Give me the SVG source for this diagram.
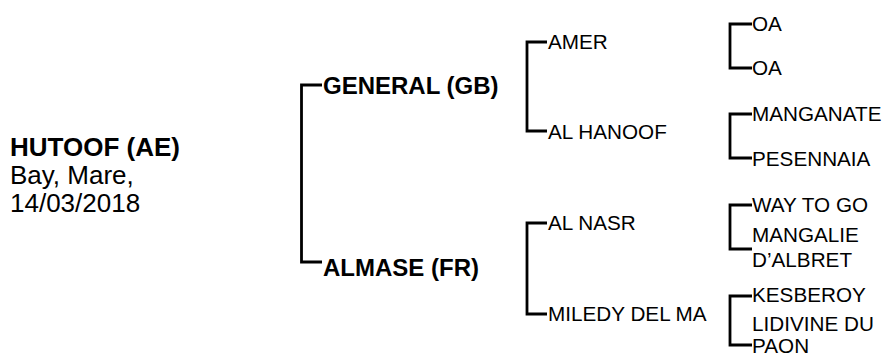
<svg xmlns="http://www.w3.org/2000/svg" width="886" height="358" viewBox="0 0 886 358">
<style>
.t{font-family:"Liberation Sans",Arial,sans-serif;fill:#000}
.b{font-weight:bold}
.l0{font-size:26px}
.l1{font-size:24px}
.l2{font-size:20.7px}
.c{fill:none;stroke:#000;stroke-width:2.8}
</style>
<rect width="886" height="358" fill="#fff"/>
<g id="connectors">
<path class="c" d="M322,85 H301.5 V262 H322"/>
<path class="c" d="M547,42 H527 V131 H547"/>
<path class="c" d="M547,223 H527 V314 H547"/>
<path class="c" d="M752,24 H730 V68 H752"/>
<path class="c" d="M752,114 H730 V158 H752"/>
<path class="c" d="M752,205 H730 V249 H752"/>
<path class="c" d="M752,296 H730 V345 H752"/>
</g>
<g id="n-hutoof"><text class="t l0" x="10" y="156"><tspan class="b">HUTOOF (AE)</tspan><tspan x="10" dy="28">Bay, Mare,</tspan><tspan x="10" dy="28">14/03/2018</tspan></text></g>
<g id="n-general"><text class="t b l1" x="323" y="94">GENERAL (GB)</text></g>
<g id="n-almase"><text class="t b l1" x="323" y="276">ALMASE (FR)</text></g>
<g id="n-amer"><text class="t l2" x="548" y="49">AMER</text></g>
<g id="n-alhanoof"><text class="t l2" x="548" y="139">AL HANOOF</text></g>
<g id="n-alnasr"><text class="t l2" x="548" y="230">AL NASR</text></g>
<g id="n-miledy"><text class="t l2" x="548" y="321">MILEDY DEL MA</text></g>
<g id="n-oa1"><text class="t l2" x="752" y="31">OA</text></g>
<g id="n-oa2"><text class="t l2" x="752" y="75">OA</text></g>
<g id="n-manganate"><text class="t l2" x="752" y="121">MANGANATE</text></g>
<g id="n-pesennaia"><text class="t l2" x="752" y="166">PESENNAIA</text></g>
<g id="n-waytogo"><text class="t l2" x="752" y="212">WAY TO GO</text></g>
<g id="n-mangalie"><text class="t l2" x="752" y="242">MANGALIE<tspan x="752" dy="24.5">D’ALBRET</tspan></text></g>
<g id="n-kesberoy"><text class="t l2" x="752" y="302">KESBEROY</text></g>
<g id="n-lidivine"><text class="t l2" x="752" y="331">LIDIVINE DU<tspan x="752" dy="22">PAON</tspan></text></g>
</svg>
